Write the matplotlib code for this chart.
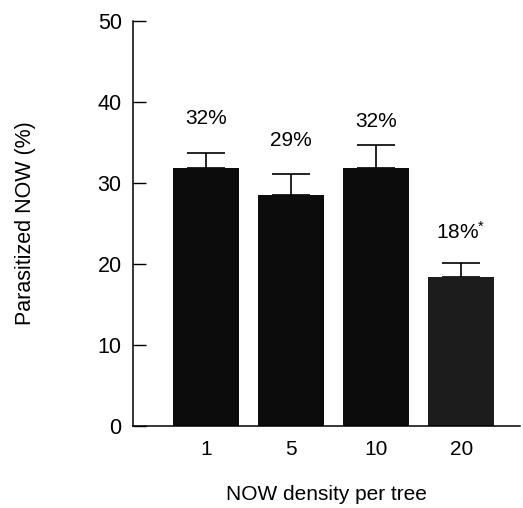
import matplotlib.pyplot as plt
import numpy as np

densities = ['1', '5', '10', '20']
parasitized = [31.9, 28.5, 31.9, 18.4]
err_upper = [1.8, 2.6, 2.8, 1.7]
pct_labels = ['32%', '29%', '32%', '18%$^{*}$']
label_y = [38.0, 35.3, 37.6, 24.0]

plt.rcParams['font.family'] = ['Liberation Sans', 'DejaVu Sans']
plt.rcParams['mathtext.default'] = 'regular'

fig = plt.figure(figsize=(5.23, 5.08), dpi=100)
ax = fig.add_axes([0.254, 0.161, 0.74, 0.798])

x = np.arange(len(densities))
colors = ['#0c0c0c', '#0c0c0c', '#0c0c0c', '#1c1c1c']
ax.bar(x, parasitized, width=0.78, color=colors, zorder=2)
ax.errorbar(x, parasitized, yerr=[np.zeros(len(x)), err_upper], fmt='none',
            ecolor='black', elinewidth=1.2, capsize=14, capthick=1.2, zorder=1)

for xi, lab, yy in zip(x, pct_labels, label_y):
    ax.text(xi, yy, lab, ha='center', va='center', fontsize=15)

ax.set_xlim(-0.86, 3.69)
ax.set_ylim(0, 50)
ax.set_yticks([0, 10, 20, 30, 40, 50])
ax.set_xticks(x)
ax.set_xticklabels(densities)
ax.tick_params(axis='y', direction='in', length=9, width=1, labelsize=15.5, pad=8)
ax.tick_params(axis='x', length=0, labelsize=15, pad=10)
for s in ['top', 'right']:
    ax.spines[s].set_visible(False)
for s in ['left', 'bottom']:
    ax.spines[s].set_linewidth(1.1)

ax.set_xlabel('NOW density per tree', fontsize=15, labelpad=19)
ax.set_ylabel('Parasitized NOW (%)', fontsize=15.5, labelpad=44)

fig.savefig('out.png', dpi=100)
